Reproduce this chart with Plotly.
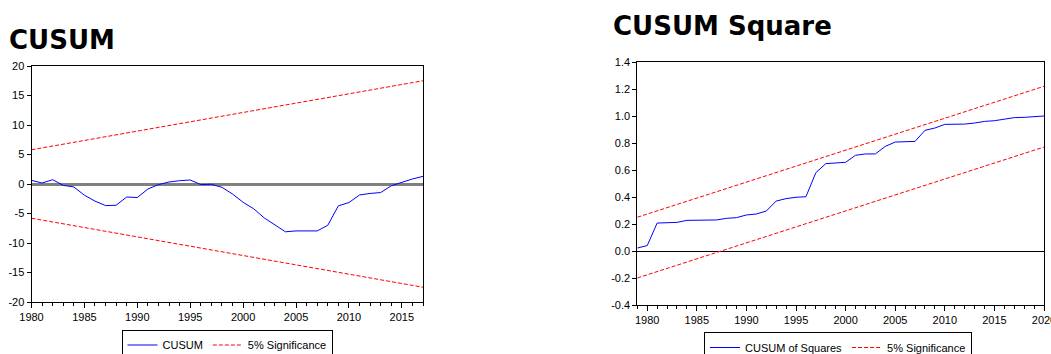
import plotly.graph_objects as go

# ---------------- data ----------------
cusum_years = list(range(1980, 2018))
cusum_values = [0.62, 0.17, 0.73, -0.23, -0.5, -1.9, -2.9, -3.66, -3.6, -2.2,
                -2.3, -0.85, -0.1, 0.34, 0.56, 0.68, -0.1, -0.05, -0.56, -1.7,
                -3.1, -4.2, -5.75, -7.0, -8.1, -7.95, -7.9, -7.95, -7.0, -3.7,
                -3.15, -1.86, -1.6, -1.45, -0.3, 0.3, 0.85, 1.3]
cusum_bound_years = [1980, 2017]
cusum_upper = [5.8, 17.5]
cusum_lower = [-5.8, -17.5]

sq_years = list(range(1979, 2021))
sq_values = [0.022, 0.04, 0.207, 0.212, 0.212, 0.227, 0.227, 0.227, 0.23, 0.242,
             0.247, 0.267, 0.274, 0.296, 0.37, 0.388, 0.398, 0.402, 0.58, 0.647,
             0.654, 0.657, 0.709, 0.719, 0.719, 0.775, 0.807, 0.81, 0.812, 0.894,
             0.911, 0.938, 0.94, 0.94, 0.948, 0.96, 0.965, 0.975, 0.988, 0.99,
             0.993, 1.0]
sq_bound_years = [1979, 2020]
sq_upper = [0.25, 1.22]
sq_lower = [-0.2, 0.77]

cusum_yticks = [-20, -15, -10, -5, 0, 5, 10, 15, 20]
cusum_yticklabels = ["-20", "-15", "-10", "-5", "0", "5", "10", "15", "20"]
sq_yticks = [-0.4, -0.2, 0.0, 0.2, 0.4, 0.6, 0.8, 1.0, 1.2, 1.4]
sq_yticklabels = ["-0.4", "-0.2", "0.0", "0.2", "0.4", "0.6", "0.8", "1.0", "1.2", "1.4"]
cusum_xticks = [1980, 1985, 1990, 1995, 2000, 2005, 2010, 2015]
sq_xticks = [1980, 1985, 1990, 1995, 2000, 2005, 2010, 2015, 2020]

W, H = 1051, 374   # page is taller than the 354 window so the legend boxes get cut like the reference
BLUE = "#0000FF"
RED = "#FF0000"
DASH = "4px,2px"
FONT = "Liberation Sans, Arial, sans-serif"

fig = go.Figure()

fig.add_trace(go.Scatter(x=cusum_years, y=cusum_values, mode="lines", name="CUSUM",
                         line=dict(color=BLUE, width=1), xaxis="x", yaxis="y",
                         legend="legend"))
fig.add_trace(go.Scatter(x=cusum_bound_years + [None] + cusum_bound_years,
                         y=cusum_upper + [None] + cusum_lower,
                         mode="lines", name="5% Significance",
                         line=dict(color=RED, width=1, dash=DASH),
                         xaxis="x", yaxis="y", legend="legend"))

fig.add_trace(go.Scatter(x=sq_years, y=sq_values, mode="lines", name="CUSUM of Squares",
                         line=dict(color=BLUE, width=1), xaxis="x2", yaxis="y2",
                         legend="legend2"))
fig.add_trace(go.Scatter(x=sq_bound_years + [None] + sq_bound_years,
                         y=sq_upper + [None] + sq_lower,
                         mode="lines", name="5% Significance",
                         line=dict(color=RED, width=1, dash=DASH),
                         xaxis="x2", yaxis="y2", legend="legend2"))

axis_common = dict(showline=True, linecolor="black", linewidth=1, mirror=True,
                   showgrid=False, ticks="outside", tickcolor="black",
                   tickfont=dict(family=FONT, size=11, color="black"),
                   automargin=False, ticklabeloverflow="allow")


def py(y):
    return 1 - y / H


xl0, xl1 = 31.5 / W, 423 / W
xr0, xr1 = 637.3 / W, 1044 / W

fig.update_layout(
    width=W, height=H, autosize=False,
    margin=dict(l=0, r=0, t=0, b=0),
    paper_bgcolor="white", plot_bgcolor="white",
    xaxis=dict(domain=[xl0, xl1], range=[1980, 2017], anchor="y",
               tickvals=cusum_xticks, ticklen=5,
               minor=dict(dtick=1, tick0=1980, ticklen=3, ticks="outside", tickcolor="black"),
               zeroline=False, **axis_common),
    yaxis=dict(domain=[py(302), py(66)], range=[-20, 20], anchor="x",
               tickvals=cusum_yticks, ticktext=cusum_yticklabels, ticklen=4,
               zeroline=True, zerolinecolor="#808080", zerolinewidth=2.5,
               **axis_common),
    xaxis2=dict(domain=[xr0, xr1], range=[1979, 2020], anchor="y2",
                tickvals=sq_xticks, ticklen=5,
                minor=dict(dtick=1, tick0=1979, ticklen=3, ticks="outside", tickcolor="black"),
                zeroline=False, **axis_common),
    yaxis2=dict(domain=[py(305), py(62)], range=[-0.4, 1.4], anchor="x2",
                tickvals=sq_yticks, ticktext=sq_yticklabels, ticklen=4,
                zeroline=True, zerolinecolor="black", zerolinewidth=1,
                **axis_common),
    legend=dict(x=227 / W, y=py(329.5), xanchor="center", yanchor="top",
                orientation="h", bordercolor="black", borderwidth=1,
                bgcolor="white", font=dict(family=FONT, size=11, color="black"),
                itemwidth=30),
    legend2=dict(x=838 / W, y=py(332), xanchor="center", yanchor="top",
                 orientation="h", bordercolor="black", borderwidth=1,
                 bgcolor="white", font=dict(family=FONT, size=11, color="black"),
                 itemwidth=30),
    annotations=[
        dict(text="<b>CUSUM</b>", x=7 / W, y=py(40.5), xref="paper", yref="paper",
             xanchor="left", yanchor="middle", showarrow=False,
             font=dict(family="DejaVu Sans", size=26, color="black")),
        dict(text="<b>CUSUM Square</b>", x=610.5 / W, y=py(26.5), xref="paper", yref="paper",
             xanchor="left", yanchor="middle", showarrow=False,
             font=dict(family="DejaVu Sans", size=26, color="black")),
    ],
)

fig.write_html(
    "out.html",
    config={"displayModeBar": False, "responsive": False},
    post_script=("document.documentElement.style.margin='0';"
                 "document.body.style.margin='0';"
                 "document.documentElement.style.overflow='hidden';"
                 "document.body.style.overflow='hidden';"),
)
